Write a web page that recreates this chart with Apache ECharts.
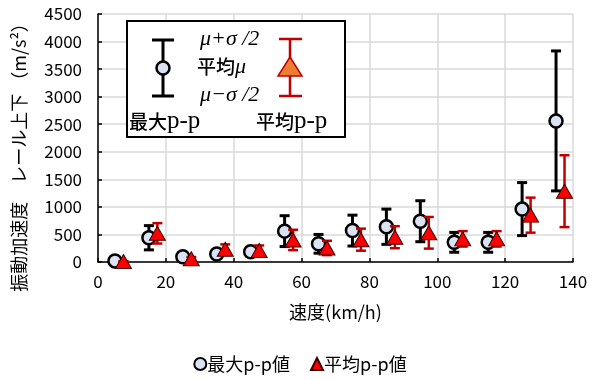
<!DOCTYPE html>
<html>
<head>
<meta charset="utf-8">
<script src="https://cdn.jsdelivr.net/npm/echarts@6/dist/echarts.min.js"></script>
<style>
  html, body { margin: 0; padding: 0; background: #fff; }
  #chart { width: 600px; height: 380px; }
</style>
</head>
<body>
<div id="chart"></div>
<script>
// Speed classes (km/h); the two series are drawn side by side within each class
const maxSpeed = [5, 15, 25, 35, 45, 55, 65, 75, 85, 95, 105, 115, 125, 135];
const avgSpeed = [7.5, 17.5, 27.5, 37.5, 47.5, 57.5, 67.5, 77.5, 87.5, 97.5, 107.5, 117.5, 127.5, 137.5];

// Maximum p-p value: mean μ and half standard deviation σ/2 (m/s²)
const maxMean   = [20, 440, 96, 145, 187, 560, 330, 570, 640, 740, 357, 357, 960, 2560];
const maxHalfSd = [10, 220, 50, 60, 80, 280, 170, 280, 320, 372, 180, 180, 481, 1270];

// Average p-p value: mean μ and half standard deviation σ/2 (m/s²)
const avgMean   = [10, 520, 60, 230, 210, 400, 255, 405, 450, 530, 420, 420, 850, 1285];
const avgHalfSd = [5, 185, 30, 90, 90, 185, 130, 200, 200, 287, 140, 140, 318, 652];

const xTicks = [0, 20, 40, 60, 80, 100, 120, 140];
const yTicks = [0, 500, 1000, 1500, 2000, 2500, 3000, 3500, 4000, 4500];

const seriesNames = ['最大p-p値', '平均p-p値'];

const JP = '"Noto Sans CJK JP", "Noto Sans", sans-serif';
const SERIF = '"Liberation Serif", "DejaVu Serif", serif';

function rangeData(xs, mean, half) {
  return xs.map((x, i) => [x, mean[i] - half[i], mean[i] + half[i]]);
}

// Vertical error bar with caps, positioned through the axis scales
function errorBar(color, width, capHalf) {
  return function (params, api) {
    const x = api.value(0);
    const lo = api.coord([x, api.value(1)]);
    const hi = api.coord([x, api.value(2)]);
    const st = { stroke: color, lineWidth: width };
    return {
      type: 'group',
      children: [
        { type: 'line', shape: { x1: hi[0], y1: hi[1], x2: lo[0], y2: lo[1] }, style: st },
        { type: 'line', shape: { x1: hi[0] - capHalf, y1: hi[1], x2: hi[0] + capHalf, y2: hi[1] }, style: st },
        { type: 'line', shape: { x1: lo[0] - capHalf, y1: lo[1], x2: lo[0] + capHalf, y2: lo[1] }, style: st }
      ]
    };
  };
}

const chart = echarts.init(document.getElementById('chart'), null, { renderer: 'canvas' });

const kanjiStyle = { fontFamily: JP, fontSize: 19, fontWeight: 500 };

// Key box explaining the error-bar notation
const keyBox = [
  { type: 'rect', left: 126, top: 20, shape: { width: 218, height: 116 },
    style: { fill: '#fff', stroke: '#000', lineWidth: 2 }, z: 100 },
  // black bar + circle
  { type: 'line', shape: { x1: 163, y1: 40, x2: 163, y2: 96 }, style: { stroke: '#000', lineWidth: 3 }, z: 101 },
  { type: 'line', shape: { x1: 152, y1: 40, x2: 174, y2: 40 }, style: { stroke: '#000', lineWidth: 3 }, z: 101 },
  { type: 'line', shape: { x1: 152, y1: 96, x2: 174, y2: 96 }, style: { stroke: '#000', lineWidth: 3 }, z: 101 },
  { type: 'circle', shape: { cx: 163, cy: 68, r: 6.5 }, style: { fill: '#DAE3F3', stroke: '#000', lineWidth: 2.5 }, z: 102 },
  // red bar + triangle
  { type: 'line', shape: { x1: 290, y1: 39, x2: 290, y2: 96 }, style: { stroke: '#C00000', lineWidth: 2.5 }, z: 101 },
  { type: 'line', shape: { x1: 279, y1: 39, x2: 302, y2: 39 }, style: { stroke: '#C00000', lineWidth: 2.5 }, z: 101 },
  { type: 'line', shape: { x1: 279, y1: 96, x2: 302, y2: 96 }, style: { stroke: '#C00000', lineWidth: 2.5 }, z: 101 },
  { type: 'polygon', shape: { points: [[290, 57], [302, 76], [278, 76]] },
    style: { fill: '#ED7D31', stroke: '#C00000', lineWidth: 1.5 }, z: 102 },
  // notation texts
  { type: 'text', left: 200, top: 28, z: 102,
    style: { text: 'μ+σ /2', font: 'italic 22px ' + SERIF, fill: '#000' } },
  { type: 'text', left: 197, top: 56, z: 102,
    style: { text: '{k|平均}{m|μ}', fill: '#000',
      rich: { k: kanjiStyle, m: { fontFamily: SERIF, fontStyle: 'italic', fontSize: 22 } } } },
  { type: 'text', left: 200, top: 84, z: 102,
    style: { text: 'μ−σ /2', font: 'italic 22px ' + SERIF, fill: '#000' } },
  { type: 'text', left: 129, top: 109, z: 102,
    style: { text: '{k|最大}{p|p-p}', fill: '#000',
      rich: { k: kanjiStyle, p: { fontFamily: SERIF, fontSize: 25 } } } },
  { type: 'text', left: 256, top: 109, z: 102,
    style: { text: '{k|平均}{p|p-p}', fill: '#000',
      rich: { k: kanjiStyle, p: { fontFamily: SERIF, fontSize: 25 } } } }
];

chart.setOption({
  animation: false,
  backgroundColor: '#fff',
  textStyle: { fontFamily: JP },
  grid: { left: 98, right: 27, top: 14, bottom: 118, containLabel: false },
  legend: {
    bottom: 2,
    left: 'center',
    itemWidth: 12,
    itemHeight: 12,
    itemGap: 20,
    data: [
      { name: seriesNames[0], icon: 'circle' },
      { name: seriesNames[1], icon: 'triangle' }
    ],
    textStyle: { fontFamily: JP, fontSize: 18, color: '#000', padding: [0, 0, 0, -4] }
  },
  xAxis: {
    type: 'value',
    min: xTicks[0],
    max: xTicks[xTicks.length - 1],
    interval: xTicks[1] - xTicks[0],
    name: '速度(km/h)',
    nameLocation: 'middle',
    nameGap: 41,
    nameTextStyle: { fontFamily: JP, fontSize: 18, color: '#000' },
    axisLine: { show: true, onZero: false, lineStyle: { color: '#000', width: 1.5 } },
    axisTick: { show: true, inside: true, length: 4, lineStyle: { color: '#000', width: 1.5 } },
    axisLabel: { fontFamily: JP, fontSize: 17, color: '#000', margin: 11 },
    splitLine: { show: true, lineStyle: { color: '#D9D9D9', width: 1.5 } }
  },
  yAxis: {
    type: 'value',
    min: yTicks[0],
    max: yTicks[yTicks.length - 1],
    interval: yTicks[1] - yTicks[0],
    name: '振動加速度　レール上下 （m/s²）',
    nameLocation: 'middle',
    nameRotate: 90,
    nameGap: 70,
    nameTextStyle: { fontFamily: JP, fontSize: 18, color: '#000', padding: [0, 30, 0, 0] },
    axisLine: { show: true, lineStyle: { color: '#000', width: 1.5 } },
    axisTick: { show: true, inside: true, length: 4, lineStyle: { color: '#000', width: 1.5 } },
    axisLabel: { fontFamily: JP, fontSize: 17, color: '#000', margin: 16, formatter: v => String(v) },
    splitLine: { show: true, lineStyle: { color: '#D9D9D9', width: 1.5 } }
  },
  graphic: keyBox,
  series: [
    {
      name: 'maxErr',
      type: 'custom',
      renderItem: errorBar('#000', 3, 5),
      data: rangeData(maxSpeed, maxMean, maxHalfSd),
      encode: { x: 0, y: [1, 2] },
      z: 2,
      silent: true
    },
    {
      name: seriesNames[0],
      type: 'scatter',
      data: maxSpeed.map((x, i) => [x, maxMean[i]]),
      symbol: 'circle',
      symbolSize: 13,
      itemStyle: { color: '#DAE3F3', borderColor: '#000', borderWidth: 2.5, opacity: 1 },
      z: 3
    },
    {
      name: 'avgErr',
      type: 'custom',
      renderItem: errorBar('#C00000', 2.5, 5),
      data: rangeData(avgSpeed, avgMean, avgHalfSd),
      encode: { x: 0, y: [1, 2] },
      z: 4,
      silent: true
    },
    {
      name: seriesNames[1],
      type: 'scatter',
      data: avgSpeed.map((x, i) => [x, avgMean[i]]),
      symbol: 'triangle',
      symbolSize: [16, 14],
      itemStyle: { color: '#FF0000', borderColor: '#400000', borderWidth: 1, opacity: 1 },
      z: 5
    }
  ]
});
</script>
</body>
</html>
